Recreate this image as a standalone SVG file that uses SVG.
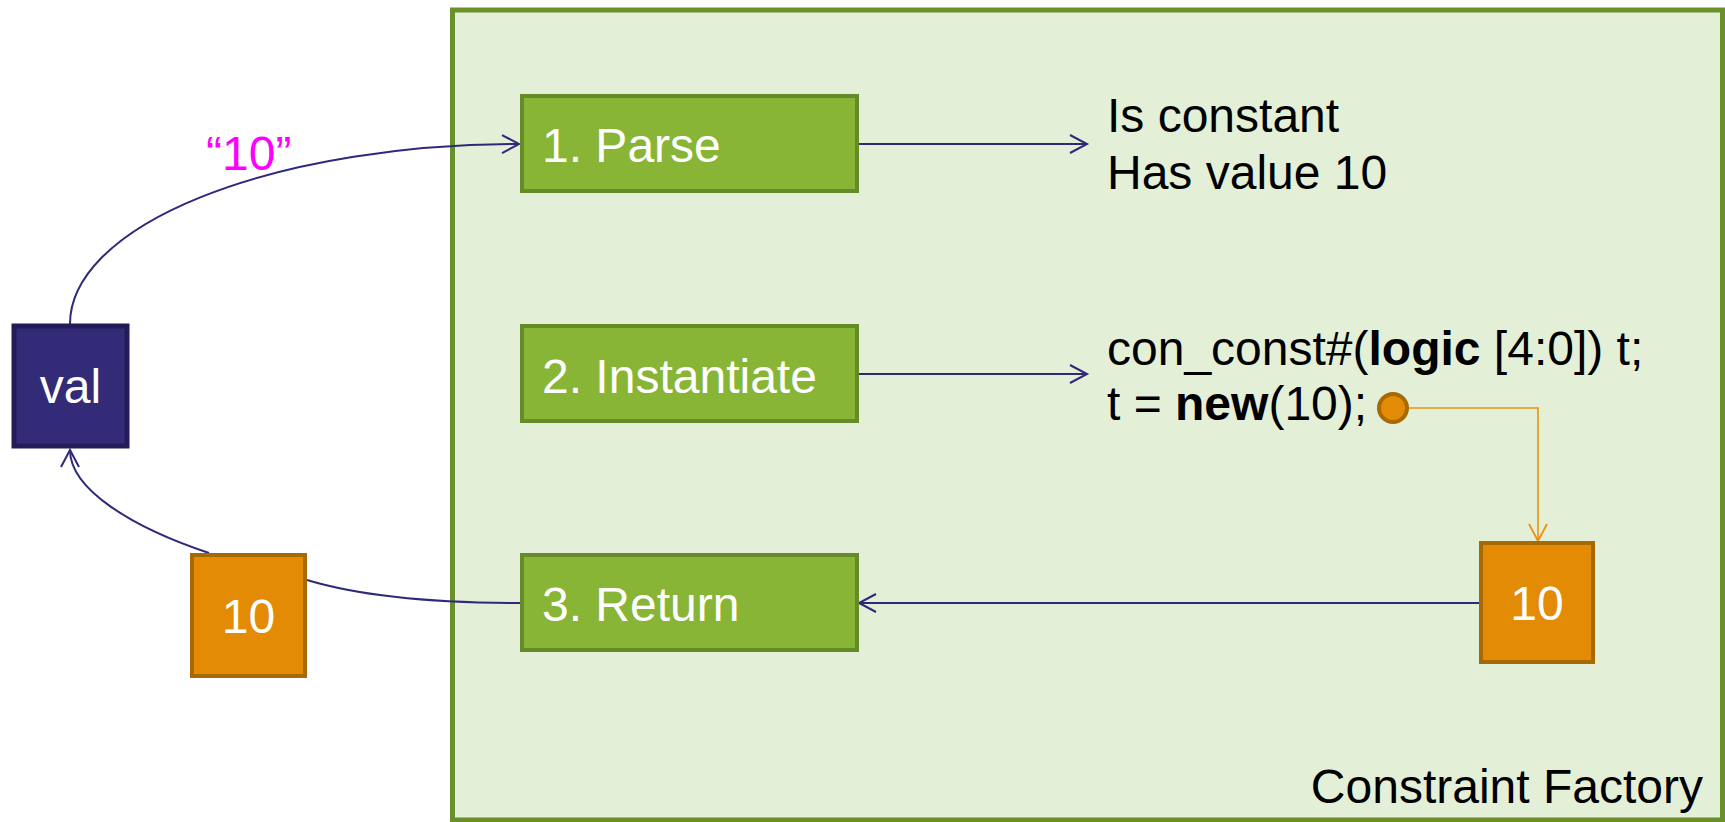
<svg xmlns="http://www.w3.org/2000/svg" width="1725" height="822" viewBox="0 0 1725 822">
<style>
text{font-family:"Liberation Sans",Arial,sans-serif;font-size:48px}
.w{fill:#ffffff}
.k{fill:#000000}
.step{fill:#88b536;stroke:#658a28;stroke-width:4}
.orange{fill:#e38b04;stroke:#a86902;stroke-width:4}
.conn{fill:none;stroke:#2e2a7a;stroke-width:2}
.oconn{fill:none;stroke:#e8940c;stroke-width:1.6}
</style>
<defs>
<marker id="arr" markerUnits="userSpaceOnUse" markerWidth="40" markerHeight="40" viewBox="-20 -20 40 40" refX="0" refY="0" orient="auto"><path d="M-17,-9 L0,0 L-17,9" fill="none" stroke="#2e2a7a" stroke-width="2"/></marker>
<marker id="oarr" markerUnits="userSpaceOnUse" markerWidth="40" markerHeight="40" viewBox="-20 -20 40 40" refX="0" refY="0" orient="auto"><path d="M-17,-9 L0,0 L-17,9" fill="none" stroke="#e8940c" stroke-width="1.8"/></marker>
</defs>
<rect width="1725" height="822" fill="#ffffff"/>
<g id="factory">
<rect x="452.5" y="10" width="1270" height="810" fill="#e4efd7" stroke="#6a8f2b" stroke-width="5"/>
<text x="1703" y="803" class="k" text-anchor="end">Constraint Factory</text>
</g>
<g id="connectors">
<path class="conn" d="M70,324 A450,180 0 0 1 519,144" marker-end="url(#arr)"/>
<path class="conn" d="M858,144 L1087,144" marker-end="url(#arr)"/>
<path class="conn" d="M858,374 L1087,374" marker-end="url(#arr)"/>
<path class="conn" d="M1479,603 L859,603" marker-end="url(#arr)"/>
<path class="conn" d="M520,603 C430,603 360,596 307,580"/>
<path class="conn" d="M209,553 C134,528 70,490 70,450" marker-end="url(#arr)"/>
<path class="oconn" d="M1409,408 L1538,408 L1538,541" marker-end="url(#oarr)"/>
</g>
<g id="label-10str">
<text x="206" y="170" fill="#ff00ff">“10”</text>
</g>
<g id="val">
<rect x="14" y="326" width="113" height="120" fill="#332b78" stroke="#231c56" stroke-width="5"/>
<text x="70.5" y="403" class="w" text-anchor="middle">val</text>
</g>
<g id="parse">
<rect class="step" x="522" y="96" width="335" height="95"/>
<text x="542" y="162" class="w">1. Parse</text>
</g>
<g id="instantiate">
<rect class="step" x="522" y="326" width="335" height="95"/>
<text x="542" y="393" class="w">2. Instantiate</text>
</g>
<g id="return">
<rect class="step" x="522" y="555" width="335" height="95"/>
<text x="542" y="621" class="w">3. Return</text>
</g>
<g id="result-left">
<rect class="orange" x="192" y="555" width="113" height="121"/>
<text x="248.5" y="633" class="w" text-anchor="middle">10</text>
</g>
<g id="result-right">
<rect class="orange" x="1481" y="543" width="112" height="119"/>
<text x="1537" y="620" class="w" text-anchor="middle">10</text>
</g>
<g id="parse-out">
<text x="1107" y="132" class="k">Is constant</text>
<text x="1107" y="189" class="k">Has value 10</text>
</g>
<g id="inst-out">
<text x="1107" y="365" class="k">con_const#(<tspan font-weight="bold">logic</tspan> [4:0]) t;</text>
<text x="1107" y="420" class="k">t = <tspan font-weight="bold">new</tspan>(10);</text>
<circle cx="1393" cy="408" r="14" fill="#e38b04" stroke="#a86902" stroke-width="4"/>
</g>
</svg>
